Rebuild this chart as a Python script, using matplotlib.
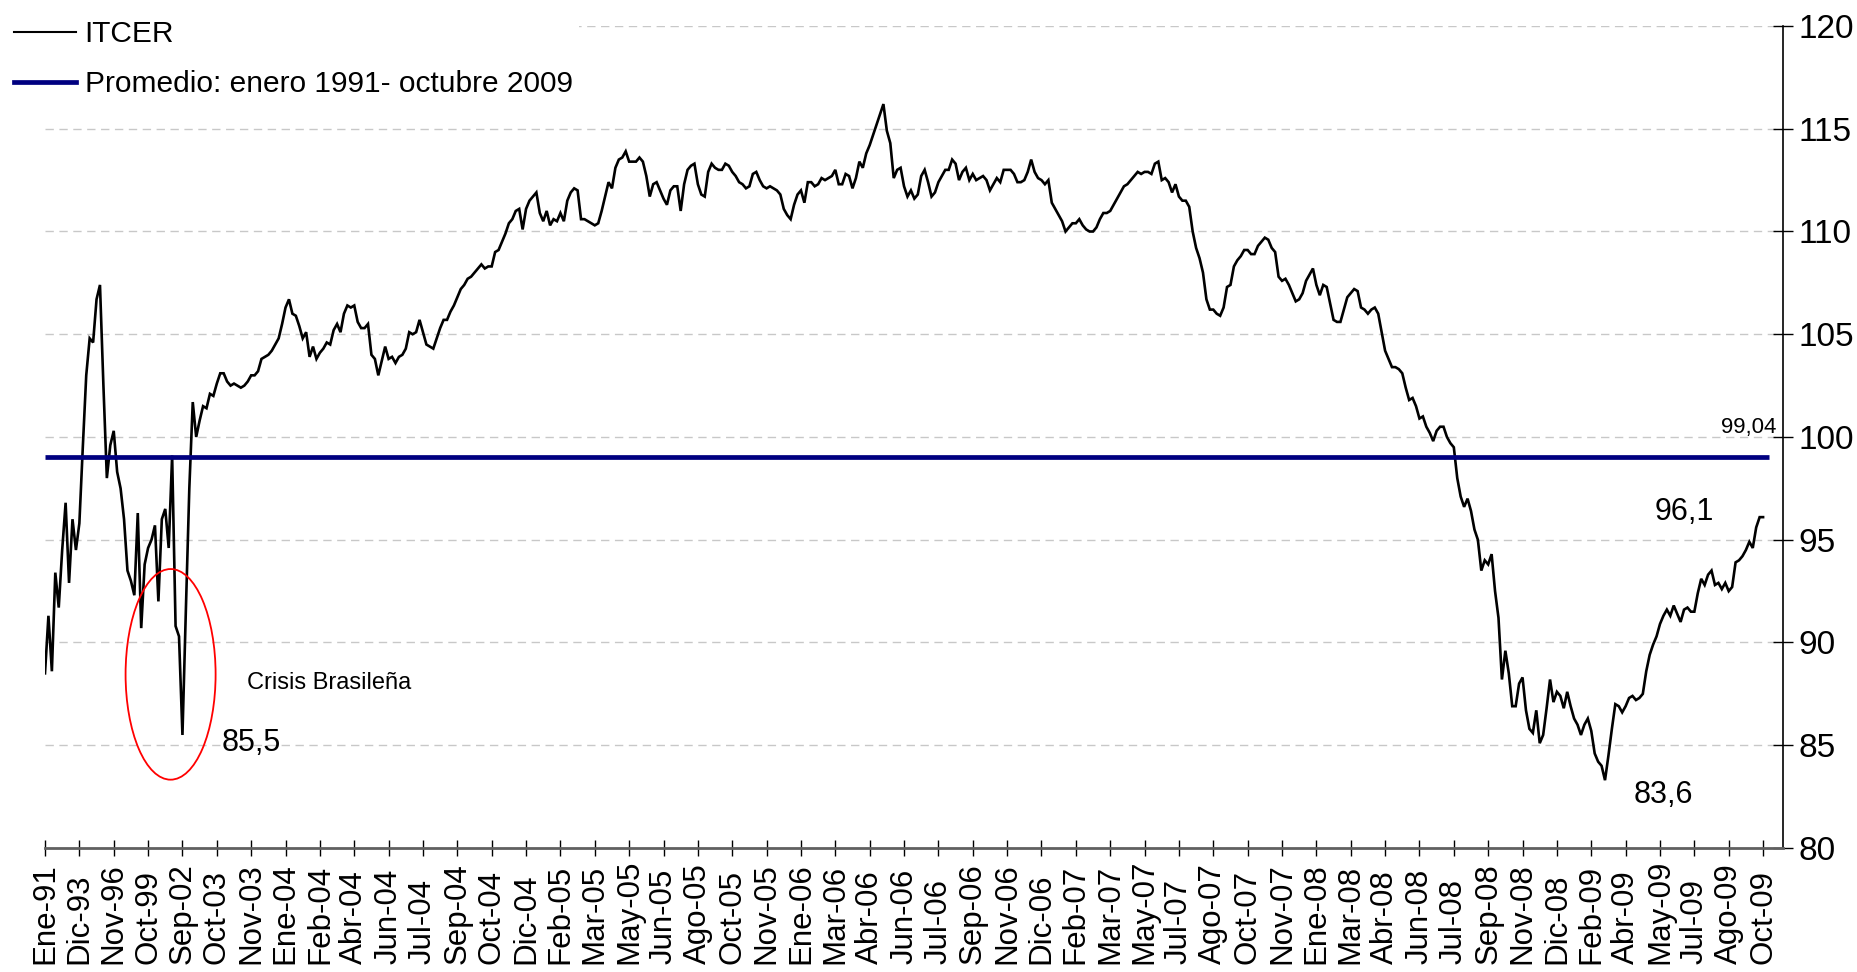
import matplotlib
matplotlib.use('Agg')
import matplotlib.pyplot as plt
import matplotlib.transforms as mtransforms
from matplotlib.patches import Ellipse
from matplotlib.lines import Line2D

plt.rcParams['font.family'] = ['Liberation Sans', 'DejaVu Sans']

# ---------------- data ----------------
tick_labels = ["Ene-91", "Dic-93", "Nov-96", "Oct-99", "Sep-02", "Oct-03", "Nov-03",
               "Ene-04", "Feb-04", "Abr-04", "Jun-04", "Jul-04", "Sep-04", "Oct-04",
               "Dic-04", "Feb-05", "Mar-05", "May-05", "Jun-05", "Ago-05", "Oct-05",
               "Nov-05", "Ene-06", "Mar-06", "Abr-06", "Jun-06", "Jul-06", "Sep-06",
               "Nov-06", "Dic-06", "Feb-07", "Mar-07", "May-07", "Jul-07", "Ago-07",
               "Oct-07", "Nov-07", "Ene-08", "Mar-08", "Abr-08", "Jun-08", "Jul-08",
               "Sep-08", "Nov-08", "Dic-08", "Feb-09", "Abr-09", "May-09", "Jul-09",
               "Ago-09", "Oct-09"]
points_per_tick = 10

itcer = [
    88.5, 91.3, 88.6, 93.4, 91.7, 94.5, 96.8, 92.9, 96.0, 94.5,
    95.8, 99.5, 103.0, 104.8, 104.6, 106.7, 107.4, 102.5, 98.0, 99.6,
    100.3, 98.3, 97.5, 96.0, 93.5, 93.0, 92.3, 96.3, 90.7, 93.8,
    94.6, 95.0, 95.7, 92.0, 96.0, 96.5, 94.6, 99.1, 90.8, 90.3,
    85.5, 91.6, 97.5, 101.7, 100.0, 100.8, 101.5, 101.4, 102.1, 102.0,
    102.6, 103.1, 103.1, 102.7, 102.5, 102.6, 102.5, 102.4, 102.5, 102.7,
    103.0, 103.0, 103.2, 103.8, 103.9, 104.0, 104.2, 104.5, 104.8, 105.5,
    106.3, 106.7, 106.0, 105.9, 105.4, 104.8, 105.1, 103.9, 104.4, 103.8,
    104.1, 104.3, 104.6, 104.5, 105.2, 105.5, 105.1, 106.0, 106.4, 106.3,
    106.4, 105.6, 105.3, 105.3, 105.5, 104.0, 103.8, 103.0, 103.7, 104.4,
    103.8, 103.9, 103.6, 103.9, 104.0, 104.3, 105.1, 105.0, 105.1, 105.7,
    105.1, 104.5, 104.4, 104.3, 104.8, 105.3, 105.7, 105.7, 106.1, 106.4,
    106.8, 107.2, 107.4, 107.7, 107.8, 108.0, 108.2, 108.4, 108.2, 108.3,
    108.3, 109.0, 109.1, 109.5, 109.9, 110.4, 110.6, 111.0, 111.1, 110.1,
    111.1, 111.5, 111.7, 111.9, 110.9, 110.5, 111.0, 110.3, 110.6, 110.5,
    110.9, 110.5, 111.5, 111.9, 112.1, 112.0, 110.6, 110.6, 110.5, 110.4,
    110.3, 110.4, 111.0, 111.7, 112.4, 112.1, 113.1, 113.5, 113.6, 113.9,
    113.4, 113.4, 113.4, 113.6, 113.4, 112.7, 111.7, 112.3, 112.4, 112.0,
    111.6, 111.3, 112.0, 112.2, 112.2, 111.0, 112.3, 113.0, 113.2, 113.3,
    112.3, 111.8, 111.7, 112.9, 113.3, 113.1, 113.0, 113.0, 113.3, 113.2,
    112.9, 112.7, 112.4, 112.3, 112.1, 112.2, 112.8, 112.9, 112.5, 112.2,
    112.1, 112.2, 112.1, 112.0, 111.8, 111.1, 110.8, 110.6, 111.3, 111.8,
    112.0, 111.4, 112.4, 112.4, 112.2, 112.3, 112.6, 112.5, 112.6, 112.7,
    113.0, 112.3, 112.3, 112.8, 112.7, 112.1, 112.6, 113.4, 113.1, 113.8,
    114.2, 114.7, 115.2, 115.7, 116.2, 114.9, 114.3, 112.6, 113.0, 113.1,
    112.2, 111.7, 112.0, 111.6, 111.8, 112.7, 113.0, 112.4, 111.7, 111.9,
    112.4, 112.7, 113.0, 113.0, 113.5, 113.3, 112.5, 112.9, 113.1, 112.5,
    112.8, 112.5, 112.6, 112.7, 112.5, 112.0, 112.3, 112.6, 112.4, 113.0,
    113.0, 113.0, 112.8, 112.4, 112.4, 112.5, 112.9, 113.5, 112.9, 112.6,
    112.5, 112.3, 112.5, 111.4, 111.1, 110.8, 110.5, 110.0, 110.2, 110.4,
    110.4, 110.6, 110.3, 110.1, 110.0, 110.0, 110.2, 110.6, 110.9, 110.9,
    111.0, 111.3, 111.6, 111.9, 112.2, 112.3, 112.5, 112.7, 112.9, 112.8,
    112.9, 112.9, 112.8, 113.3, 113.4, 112.5, 112.6, 112.4, 111.9, 112.3,
    111.7, 111.5, 111.5, 111.2, 110.0, 109.2, 108.7, 108.0, 106.7, 106.2,
    106.2, 106.0, 105.9, 106.3, 107.3, 107.4, 108.3, 108.6, 108.8, 109.1,
    109.1, 108.9, 108.9, 109.3, 109.5, 109.7, 109.6, 109.2, 109.0, 107.8,
    107.6, 107.7, 107.4, 107.0, 106.6, 106.7, 107.0, 107.6, 107.9, 108.2,
    107.4, 106.9, 107.4, 107.3, 106.5, 105.7, 105.6, 105.6, 106.2, 106.8,
    107.0, 107.2, 107.1, 106.3, 106.2, 106.0, 106.2, 106.3, 106.0, 105.1,
    104.2, 103.8, 103.4, 103.4, 103.3, 103.1, 102.4, 101.8, 101.9, 101.5,
    100.9, 101.0, 100.5, 100.2, 99.8, 100.3, 100.5, 100.5, 100.0, 99.7,
    99.5, 98.0, 97.1, 96.6, 97.0, 96.4, 95.5, 95.0, 93.5, 94.0,
    93.8, 94.3, 92.5, 91.2, 88.2, 89.6, 88.5, 86.9, 86.9, 88.0,
    88.3, 86.7, 85.8, 85.6, 86.7, 85.1, 85.5, 86.8, 88.2, 87.1,
    87.6, 87.4, 86.8, 87.6, 86.9, 86.3, 86.0, 85.5, 86.0, 86.3,
    85.7, 84.6, 84.2, 84.0, 83.3, 84.5, 85.8, 87.0, 86.9, 86.6,
    86.9, 87.3, 87.4, 87.2, 87.3, 87.5, 88.6, 89.4, 89.9, 90.3,
    90.9, 91.3, 91.6, 91.3, 91.8, 91.4, 91.0, 91.6, 91.7, 91.5,
    91.5, 92.4, 93.1, 92.8, 93.3, 93.5, 92.8, 92.9, 92.6, 92.9,
    92.5, 92.7, 93.9, 94.0, 94.2, 94.5, 94.9, 94.6, 95.6, 96.1,
    96.1,
]
promedio = 99.04
series_names = ["ITCER", "Promedio: enero 1991- octubre 2009"]
annot_values = ["85,5", "96,1", "83,6"]
crisis_label = "Crisis Brasileña"

# ---------------- figure ----------------
W, H = 1858, 972
fig = plt.figure(figsize=(W / 100, H / 100), dpi=100)
fig.patch.set_facecolor('white')
ax = fig.add_axes([45 / W, 124 / H, (1783 - 45) / W, (848 - 26) / H])

n = len(itcer)
xs = list(range(n))
ax.plot(xs, itcer, color='black', lw=1.9, zorder=3, solid_joinstyle='miter')
ax.plot([0, n + 0.7], [promedio, promedio], color='#000080', lw=3.4,
        zorder=4, solid_capstyle='butt')

ax.set_xlim(0, 505.8)
ax.set_ylim(80, 120)

# y axis on right
ax.set_yticks(range(80, 121, 5))
ax.yaxis.tick_right()
ax.tick_params(axis='y', direction='inout', length=14, width=1.0,
               labelsize=24, pad=4, colors='black')
ax.yaxis.grid(True, linestyle=(0, (6, 4)), color='#c8c8c8', lw=1.0)
ax.set_axisbelow(True)

for s in ['left', 'top']:
    ax.spines[s].set_visible(False)
ax.spines['right'].set_color('black')
ax.spines['right'].set_linewidth(1.2)
ax.spines['bottom'].set_color('#606060')
ax.spines['bottom'].set_linewidth(2.0)

# x ticks
tick_pos = [i * points_per_tick for i in range(len(tick_labels))]
ax.set_xticks(tick_pos)
ax.set_xticklabels([])
ax.tick_params(axis='x', direction='inout', length=11, width=1.0, colors='black')
trans = mtransforms.blended_transform_factory(ax.transData, ax.transAxes)
y_lab = (848 - 964) / (848 - 26)
for p, lab in zip(tick_pos, tick_labels):
    ax.text(p, y_lab, lab, transform=trans, rotation=90, rotation_mode='anchor',
            ha='left', va='center', fontsize=22.5, clip_on=False)

# annotations
ax.add_patch(Ellipse((36.55, 88.45), width=26.2, height=10.25, fill=False,
                     edgecolor='red', lw=1.3, zorder=5))
ax.text(82.8, 88.05, crisis_label, ha='center', va='center', fontsize=17)
ax.text(60.0, 85.1, annot_values[0], ha='center', va='center', fontsize=22)
ax.text(477.2, 96.35, annot_values[1], ha='center', va='center', fontsize=22)
ax.text(471.0, 82.6, annot_values[2], ha='center', va='center', fontsize=22)
ax.text(504.0, 99.95, f"{promedio:.2f}".replace('.', ','), ha='right',
        va='bottom', fontsize=16)

# legend
handles = [Line2D([0], [0], color='black', lw=1.5),
           Line2D([0], [0], color='#000080', lw=3.4)]
leg = fig.legend(handles, series_names, loc='upper left',
                 bbox_to_anchor=(8 / W, 1.0 - 14 / H), frameon=True,
                 facecolor='white', edgecolor='none', framealpha=1.0,
                 fontsize=21.5, handlelength=2.07, handletextpad=0.3,
                 labelspacing=0.75, borderpad=0.2, borderaxespad=0.0)
leg.set_zorder(10)

fig.savefig('out.png', dpi=100, facecolor='white')
